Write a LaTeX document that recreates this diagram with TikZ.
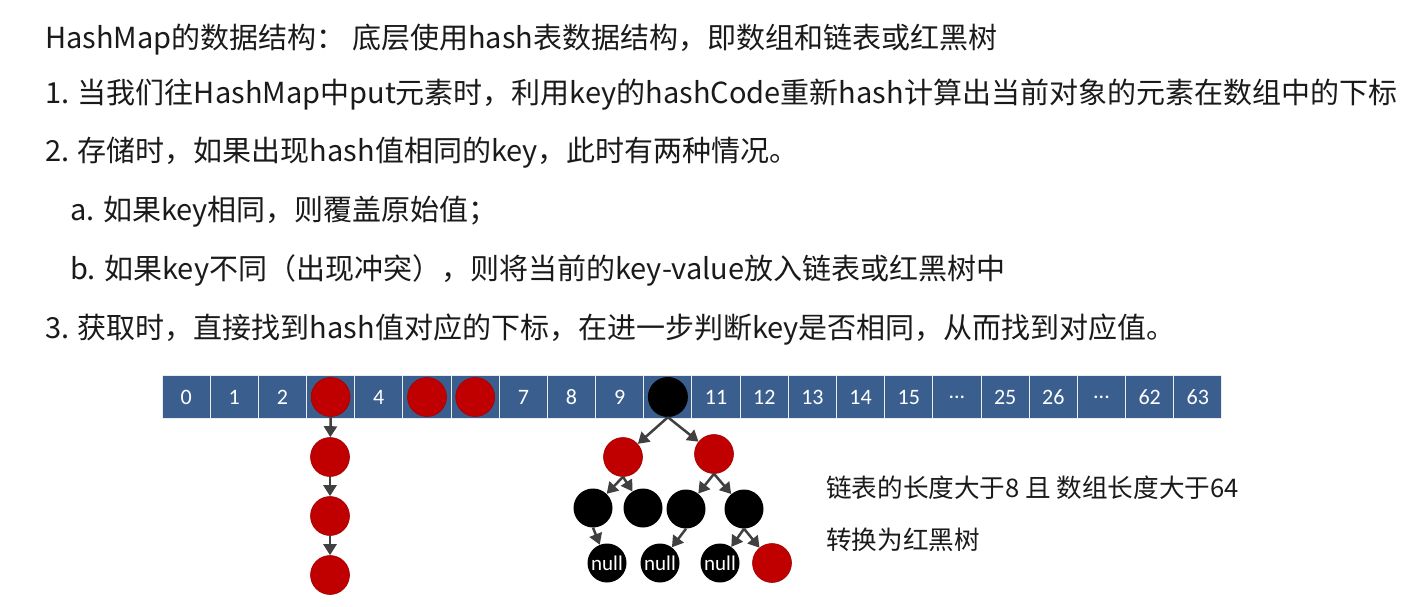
\documentclass[tikz,border=0pt]{standalone}
\usepackage{fontspec}
\setmainfont{Noto Sans CJK SC}
\newfontfamily\carlitofont{Carlito}
\usetikzlibrary{arrows.meta}
\definecolor{cellblue}{HTML}{3A5F8F}
\definecolor{nodered}{HTML}{C00000}
\definecolor{arrowgray}{HTML}{404040}
\definecolor{txt}{HTML}{1A1A1A}
\newcommand\celldots{...}
\tikzset{
  cell/.style={draw=white!85!gray, line width=1pt, fill=cellblue, minimum width=48.2pt, minimum height=43pt, inner sep=0pt, text=white, font=\carlitofont\fontsize{22}{22}\selectfont},
  rednode/.style={circle, fill=nodered, draw=nodered!85!black, line width=0.6pt, minimum size=39pt, inner sep=0pt},
  blacknode/.style={circle, fill=black, minimum size=39pt, inner sep=0pt, text=white, font=\carlitofont\fontsize{21}{21}\selectfont},
  link/.style={draw=arrowgray, line width=2.5pt, -{Triangle[length=11pt,width=13pt]}},
  textline/.style={anchor=west, inner sep=0pt, text=txt, font=\fontsize{29}{35}\selectfont},
  note/.style={anchor=west, inner sep=0pt, text=txt, font=\fontsize{25.6}{30}\selectfont}
}
\begin{document}
\begin{tikzpicture}[x=1pt,y=-1pt]
\useasboundingbox[fill=white] (0,0) rectangle (1428,607);
% text lines
\node[textline] (l0) at (45,40) {HashMap的数据结构： 底层使用hash表数据结构，即数组和链表或红黑树};
\node[textline] (l1) at (45,95) {1. 当我们往HashMap中put元素时，利用key的hashCode重新hash计算出当前对象的元素在数组中的下标};
\node[textline] (l2) at (45,153) {2. 存储时，如果出现hash值相同的key，此时有两种情况。};
\node[textline] (la) at (70,212) {a. 如果key相同，则覆盖原始值；};
\node[textline] (lb) at (70,270) {b. 如果key不同（出现冲突），则将当前的key-value放入链表或红黑树中};
\node[textline] (l3) at (45,330) {3. 获取时，直接找到hash值对应的下标，在进一步判断key是否相同，从而找到对应值。};
% array
\foreach \i/\t in {0/0,1/1,2/2,3/,4/4,5/,6/,7/7,8/8,9/9,10/,11/11,12/12,13/13,14/14,15/15,16/\celldots,17/25,18/26,19/\celldots,20/62,21/63}
  \node[cell] (c\i) at ({186.1+48.18*\i},397) {\t};
\node[rednode] (a3) at (c3) {};
\node[rednode] (a5) at (c5) {};
\node[rednode] (a6) at (c6) {};
\node[blacknode, minimum size=40pt] (root) at (c10) {};
% linked list
\node[rednode] (k1) at (330,457) {};
\node[rednode] (k2) at (330,516) {};
\node[rednode] (k3) at (330,575) {};
\draw[link] (a3.south) -- (k1);
\draw[link] (k1.south) -- (k2);
\draw[link] (k2.south) -- (k3);
% tree
\node[rednode] (tL) at (623,457) {};
\node[rednode] (tR) at (714,454) {};
\node[blacknode] (tLL) at (593,508) {};
\node[blacknode] (tLR) at (643,508) {};
\node[blacknode] (tRL) at (686,509) {};
\node[blacknode] (tRR) at (744,509) {};
\node[blacknode] (n1) at (607,563) {null};
\node[blacknode] (n2) at (660,563) {null};
\node[blacknode] (n3) at (720,563) {null};
\node[rednode] (leaf) at (772,563) {};
\draw[link] (root.south) -- (tL);
\draw[link] (root.south) -- (tR);
\draw[link] (tL.south) -- (tLL);
\draw[link] (tL.south) -- (tLR);
\draw[link] (tR.south) -- (tRL);
\draw[link] (tR.south) -- (tRR);
\draw[link] (tLL.south) -- (n1);
\draw[link] (tRL.south) -- (n2);
\draw[link] (tRR.south) -- (n3);
\draw[link] (tRR.south) -- (leaf);
% notes
\node[note] (m1) at (826,488) {链表的长度大于8 且 数组长度大于64};
\node[note] (m2) at (826,540) {转换为红黑树};
\end{tikzpicture}
\end{document}
